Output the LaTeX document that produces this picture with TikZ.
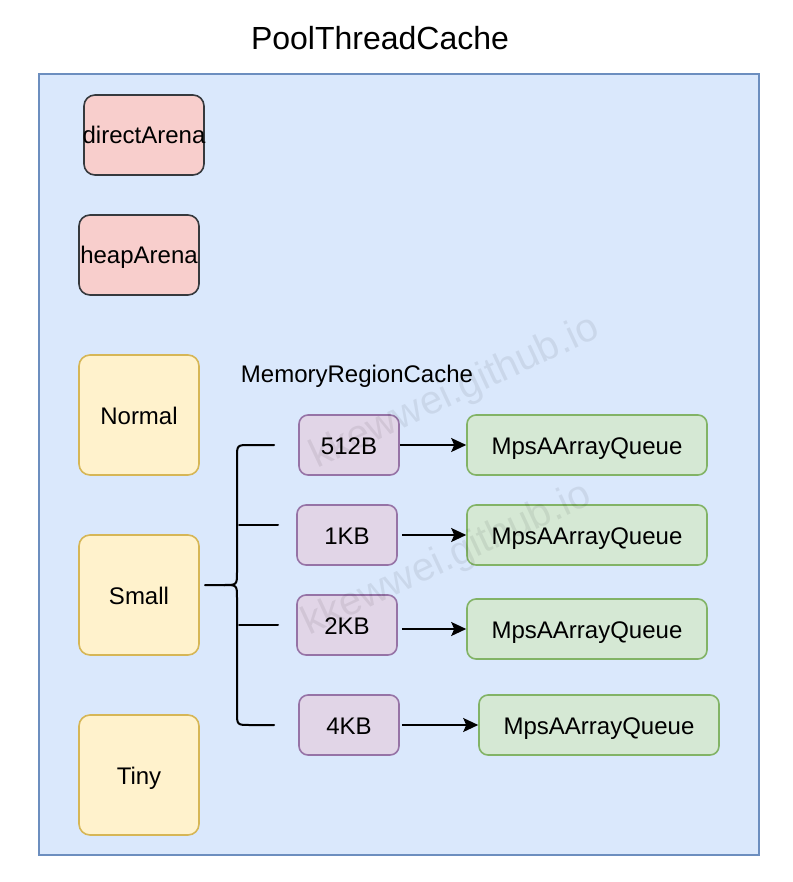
\documentclass[tikz,border=0pt]{standalone}
\usepackage{fontspec}
\setmainfont{Liberation Sans}
\usetikzlibrary{arrows.meta, positioning}

\definecolor{cachefill}{HTML}{DAE8FC}
\definecolor{cacheline}{HTML}{6C8EBF}
\definecolor{arenafill}{HTML}{F8CECC}
\definecolor{arenaline}{HTML}{36393D}
\definecolor{sizefill}{HTML}{FFF2CC}
\definecolor{sizeline}{HTML}{D6B656}
\definecolor{regionfill}{HTML}{E1D5E7}
\definecolor{regionline}{HTML}{9673A6}
\definecolor{queuefill}{HTML}{D5E8D4}
\definecolor{queueline}{HTML}{82B366}

\begin{document}
\begin{tikzpicture}[x=1pt, y=-1pt,
  box/.style={rounded corners=11, line width=1.6, inner sep=0,
    minimum width=120, minimum height=80, text height=19.5pt, text depth=1.5pt,
    font=\fontsize{24}{28}\selectfont},
  arena/.style={box, fill=arenafill, draw=arenaline},
  sizeclass/.style={box, fill=sizefill, draw=sizeline, minimum height=120},
  region/.style={box, rounded corners=9, fill=regionfill, draw=regionline,
    minimum width=100, minimum height=60},
  queue/.style={box, rounded corners=9, fill=queuefill, draw=queueline,
    minimum width=240, minimum height=60},
  arr/.style={line width=1.6, -{Stealth[length=15, width=14, inset=3]}},
  brace/.style={line width=2, line cap=round},
  wmark/.style={text=black, text opacity=0.07, rotate=25, font=\fontsize{40}{48}\selectfont}]

  \useasboundingbox (0,0) rectangle (792,882);

  % title and outer cache
  \node[font=\fontsize{32}{38}\selectfont] (title) at (380,38) {PoolThreadCache};
  \draw[fill=cachefill, draw=cacheline, line width=1.6] (39,74) rectangle (759,855);

  % arenas
  \node[arena, inner xsep=-2] (direct) at (144,135) {directArena};
  \node[arena] (heap) at (139,255) {heapArena};

  % size classes
  \node[sizeclass] (normal) at (139,415) {Normal};
  \node[sizeclass] (small) at (139,595) {Small};
  \node[sizeclass] (tiny) at (139,775) {Tiny};

  \node[font=\fontsize{24}{28}\selectfont] (mrc) at (357,376) {MemoryRegionCache};

  % memory region caches
  \node[region] (c512) at (349,445) {512B};
  \node[region] (c1k) at (347,535) {1KB};
  \node[region] (c2k) at (347,625) {2KB};
  \node[region] (c4k) at (349,725) {4KB};

  \node[queue] (q512) at (587,445) {MpsAArrayQueue};
  \node[queue] (q1k) at (587,535) {MpsAArrayQueue};
  \node[queue] (q2k) at (587,629) {MpsAArrayQueue};
  \node[queue] (q4k) at (599,725) {MpsAArrayQueue};

  \draw[arr] (c512.east) -- (q512.west);
  \draw[arr] ([xshift=4]c1k.east) -- (q1k.west);
  \draw[arr] ([xshift=4]c2k.east |- q2k.west) -- (q2k.west);
  \draw[arr] ([xshift=2]c4k.east) -- (q4k.west);

  % brace from small
  \coordinate (cusp) at (205,585);
  \draw[brace] (cusp) -- (224,585) .. controls (237,585) .. (237,572) -- (237,458)
    .. controls (237,445) .. (250,445) -- ([xshift=-24]c512.west);
  \draw[brace] (224,585) .. controls (237,585) .. (237,598) -- (237,712)
    .. controls (237,725) .. (250,725) -- ([xshift=-24]c4k.west);
  \draw[brace] (239,525) -- (278,525);
  \draw[brace] (239,625) -- (278,625);

  % watermark
  \node[wmark] (wm1) at (455,393) {kkewwei.github.io};
  \node[wmark] (wm2) at (447,560) {kkewwei.github.io};

\end{tikzpicture}
\end{document}
